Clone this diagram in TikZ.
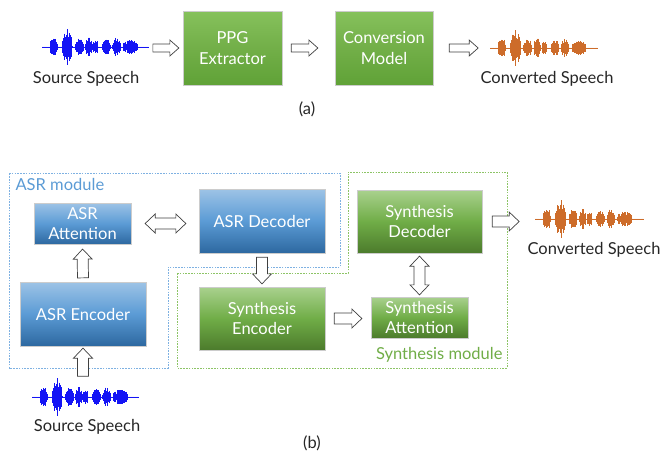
\documentclass[tikz,border=0pt]{standalone}
\usepackage{fontspec}
\setmainfont{Lato}
\usetikzlibrary{calc}

\definecolor{gAtop}{HTML}{86C15C}
\definecolor{gAmid}{HTML}{72AF48}
\definecolor{gAbot}{HTML}{60A237}
\definecolor{gBtop}{HTML}{A9D18E}
\definecolor{gBmid}{HTML}{70AD47}
\definecolor{gBbot}{HTML}{4C7B2C}
\definecolor{bBtop}{HTML}{9DC3E6}
\definecolor{bBmid}{HTML}{5B9BD5}
\definecolor{bBbot}{HTML}{2D68A0}
\definecolor{asrline}{HTML}{7EB1E2}
\definecolor{synline}{HTML}{8DC466}
\definecolor{wblue}{HTML}{1414F5}
\definecolor{worange}{HTML}{CD6C2A}
\definecolor{labgray}{HTML}{262626}

\newcommand\arh{4pt}
\newcommand\arH{8pt}
\newcommand\arL{9pt}

\tikzset{
  boxA/.style={rectangle, top color=gAtop, bottom color=gAbot, middle color=gAmid,
    draw=white!80!black, line width=0.3pt, text=white, align=center, inner sep=0pt,
    font=\fontsize{16.5}{21}\selectfont},
  boxG/.style={boxA, top color=gBtop, bottom color=gBbot, middle color=gBmid,
    font=\fontsize{16.5}{20}\selectfont},
  boxB/.style={boxG, top color=bBtop, bottom color=bBbot, middle color=bBmid},
  lab/.style={text=labgray, font=\fontsize{16.5}{20}\selectfont},
  bigtip/.code={\def\arh{5.5pt}\def\arH{9.5pt}\def\arL{10pt}},
  fatarrow/.style={draw=black!75, fill=white, line width=0.7pt,
    to path={
      ($(\tikztostart)!\arh!90:(\tikztotarget)$)
      -- ($($(\tikztotarget)!\arL!(\tikztostart)$)!\arh!90:(\tikztotarget)$)
      -- ($($(\tikztotarget)!\arL!(\tikztostart)$)!\arH!90:(\tikztotarget)$)
      -- (\tikztotarget)
      -- ($($(\tikztotarget)!\arL!(\tikztostart)$)!\arH!-90:(\tikztotarget)$)
      -- ($($(\tikztotarget)!\arL!(\tikztostart)$)!\arh!-90:(\tikztotarget)$)
      -- ($(\tikztostart)!\arh!-90:(\tikztotarget)$) -- cycle}},
  fatdarrow/.style={draw=black!75, fill=white, line width=0.7pt,
    to path={
      (\tikztostart)
      -- ($($(\tikztostart)!\arL!(\tikztotarget)$)!\arH!90:(\tikztotarget)$)
      -- ($($(\tikztostart)!\arL!(\tikztotarget)$)!\arh!90:(\tikztotarget)$)
      -- ($($(\tikztotarget)!\arL!(\tikztostart)$)!\arh!90:(\tikztotarget)$)
      -- ($($(\tikztotarget)!\arL!(\tikztostart)$)!\arH!90:(\tikztotarget)$)
      -- (\tikztotarget)
      -- ($($(\tikztotarget)!\arL!(\tikztostart)$)!\arH!-90:(\tikztotarget)$)
      -- ($($(\tikztotarget)!\arL!(\tikztostart)$)!\arh!-90:(\tikztotarget)$)
      -- ($($(\tikztostart)!\arL!(\tikztotarget)$)!\arh!-90:(\tikztotarget)$)
      -- ($($(\tikztostart)!\arL!(\tikztotarget)$)!\arH!-90:(\tikztotarget)$)
      -- cycle}},
  frame/.style={dash pattern=on 1.6pt off 1.2pt, line width=0.8pt},
}

\newcommand\speechwave[4]{%
  \draw[#4!30, line width=0.6pt] (#1) -- ++(#2,0);
  \pgfmathsetseed{11}
  \foreach \k in {0,...,200}{
    \pgfmathsetmacro\wa{#3*env(\k/200)*(0.45+0.55*rnd)+0.2}
    \draw[#4, line width=0.6pt] ($(#1)+(\k/200*#2,-\wa)$) -- ++(0,2*\wa);
  }}

\begin{document}
\begin{tikzpicture}[x=1pt, y=-1pt,
  declare function={bmp(\x,\c,\s)=sqrt(max(0,1-((\x-\c)/\s)^2));
    env(\x)=0.5*bmp(\x,0.11,0.04)+1.0*bmp(\x,0.235,0.05)+0.5*bmp(\x,0.35,0.04)
      +0.55*bmp(\x,0.44,0.035)+0.45*bmp(\x,0.505,0.025)+0.4*bmp(\x,0.605,0.04)
      +0.5*bmp(\x,0.70,0.04)+0.4*bmp(\x,0.83,0.07);}]
\useasboundingbox (0,0) rectangle (663,451);

\coordinate (srcA) at (42,47);
\coordinate (cvA) at (490,48);
\coordinate (srcB) at (32,397);
\coordinate (cvB) at (535,219);
\speechwave{srcA}{106}{19}{wblue}
\speechwave{cvA}{107}{19}{worange}
\speechwave{srcB}{106}{20}{wblue}
\speechwave{cvB}{108}{20}{worange}

\node[boxA, minimum width=99pt, minimum height=74pt] (ppg) at (232.5,48) {PPG\\Extractor};
\node[boxA, minimum width=98pt, minimum height=74pt] (conv) at (384,48) {Conversion\\Model};
\node[lab] (srcAtxt) at (86,79) {Source Speech};
\node[lab] (cvAtxt) at (547,79) {Converted Speech};
\node[lab] (capA) at (307,109) {(a)};

\draw[fatarrow] ([xshift=-30pt]ppg.west) to ([xshift=-4pt]ppg.west);
\draw[fatarrow] ([xshift=9pt]ppg.east) to ([xshift=-17pt]conv.west);
\draw[fatarrow] ([xshift=16pt]conv.east) to ([xshift=45pt]conv.east);

\draw[frame, asrline] (9,173) -- (340,173) -- (340,267) -- (168,267) -- (168,368) -- (9,368) -- cycle;
\draw[frame, synline] (177,273) -- (348,273) -- (348,172) -- (507,172) -- (507,368) -- (177,368) -- cycle;
\node[anchor=west, text=bBmid, font=\fontsize{16.5}{20}\selectfont] (asrmod) at (12,184) {ASR module};
\node[anchor=east, text=gBmid, font=\fontsize{16.5}{20}\selectfont] (synmod) at (506,355) {Synthesis module};

\node[boxB, minimum width=97pt, minimum height=41pt] (asratt) at (82.5,223.5) {ASR\\Attention};
\node[boxB, minimum width=126pt, minimum height=64pt] (asrdec) at (262,221) {ASR Decoder};
\node[boxB, minimum width=126pt, minimum height=64pt] (asrenc) at (83,314) {ASR Encoder};
\node[boxG, minimum width=126pt, minimum height=63pt] (synenc) at (262,318.5) {Synthesis\\Encoder};
\node[boxG, minimum width=125pt, minimum height=63pt] (syndec) at (419.5,221.5) {Synthesis\\Decoder};
\node[boxG, minimum width=97pt, minimum height=41pt] (synatt) at (419.5,317.5) {Synthesis\\Attention};
\node[lab] (srcBtxt) at (87,427) {Source Speech};
\node[lab] (cvBtxt) at (594,250) {Converted Speech};
\node[lab] (capB) at (312,443) {(b)};

\draw[fatarrow, bigtip] ([yshift=-30pt]asrenc.south) to ([yshift=-2pt]asrenc.south);
\draw[fatarrow, bigtip] ([yshift=4pt]asrenc.north) to ([yshift=-5pt]asratt.south);
\draw[fatdarrow, bigtip] ([xshift=14pt]asratt.east) to ([xshift=-13pt]asratt.east -| asrdec.west);
\draw[fatarrow, bigtip] ([yshift=-4pt]asrdec.south) to ([yshift=3pt]synenc.north);
\draw[fatarrow, bigtip] ([xshift=9pt]synenc.east) to ([xshift=-9pt]synenc.east -| synatt.west);
\draw[fatdarrow, bigtip] ([yshift=-3pt]syndec.south) to ([yshift=2pt]synatt.north);
\draw[fatarrow, bigtip] ([xshift=10pt]syndec.east) to ([xshift=37pt]syndec.east);
\end{tikzpicture}
\end{document}
